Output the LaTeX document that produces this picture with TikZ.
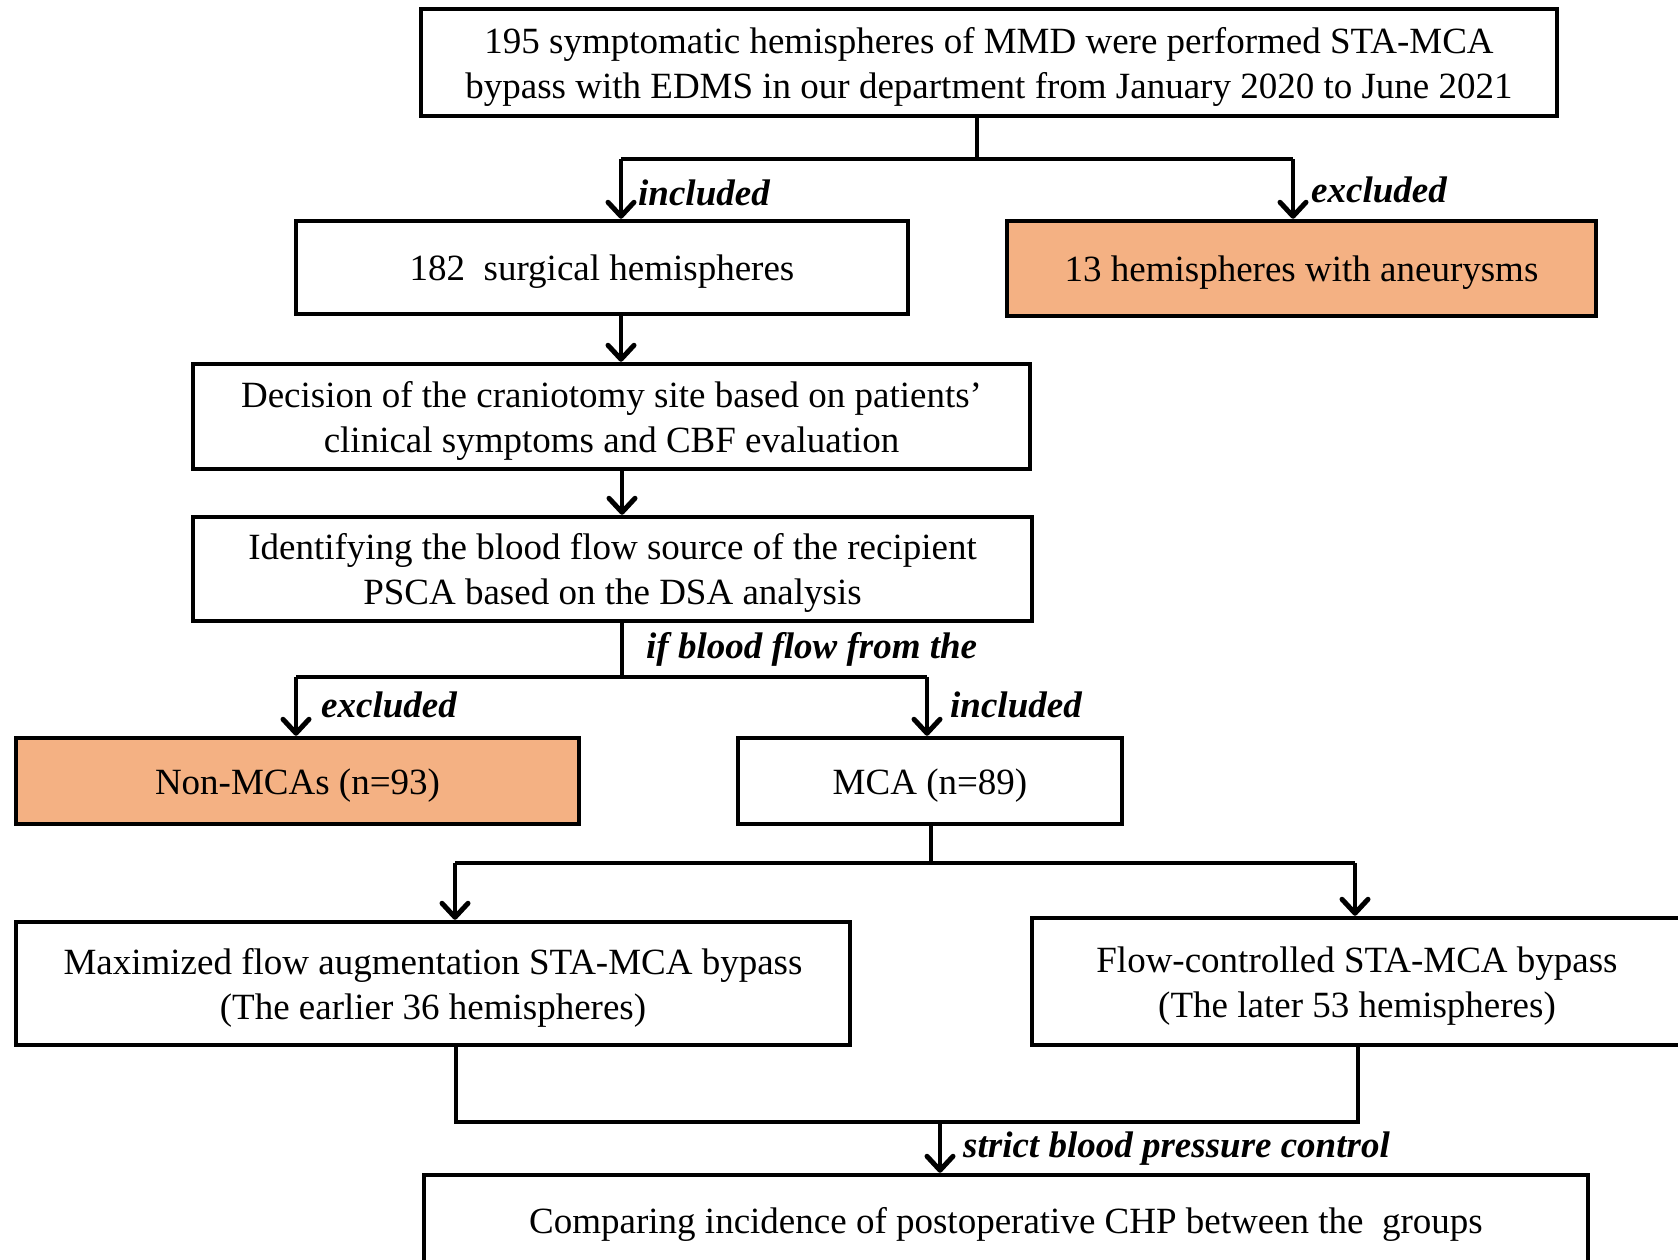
\documentclass[tikz,border=0pt]{standalone}
\usepackage{fontspec}
\setmainfont{Liberation Serif}
\usetikzlibrary{arrows.meta}
\definecolor{boxorange}{RGB}{244,177,131}
\newcommand{\bxt}[1]{\raisebox{-4pt}[\height][\depth]{\begin{tabular}{@{}c@{}}#1\end{tabular}}}
\begin{document}
\begin{tikzpicture}[x=1pt,y=-1pt,
  every node/.style={font=\fontsize{37}{45}\selectfont},
  box/.style={draw,line width=4.5pt,inner sep=0pt,anchor=center},
  obox/.style={box,fill=boxorange},
  conn/.style={line width=4pt},
  arr/.style={conn,-{Straight Barb[length=14pt,width=26pt,line width=5pt,round]}},
  lab/.style={anchor=west,font=\fontsize{37}{45}\selectfont\bfseries\itshape,inner sep=0pt}]
\useasboundingbox[fill=white] (0,0) rectangle (1678,1259);
\begin{scope}
\clip (0,0) rectangle (1678,1259);
\node[box,minimum width=1136pt,minimum height=107pt] (top) at (989,62.5)
  {\bxt{195 symptomatic hemispheres of MMD were performed STA-MCA\\bypass with EDMS in our department from January 2020 to June 2021}};
\node[box,minimum width=612pt,minimum height=93pt] (b182) at (602,267.5) {\bxt{182\ \ surgical hemispheres}};
\node[obox,minimum width=589pt,minimum height=95pt] (b13) at (1301.5,268.5) {\bxt{13 hemispheres with aneurysms}};
\node[box,minimum width=837pt,minimum height=105pt] (dec) at (611.5,416.5)
  {\bxt{Decision of the craniotomy site based on patients’\\clinical symptoms and CBF evaluation}};
\node[box,minimum width=839pt,minimum height=104pt] (ide) at (612.5,569)
  {\bxt{Identifying the blood flow source of the recipient\\PSCA based on the DSA analysis}};
\node[obox,minimum width=563pt,minimum height=86pt] (non) at (297.5,781) {\bxt{Non-MCAs (n=93)}};
\node[box,minimum width=384pt,minimum height=86pt] (mca) at (930,781) {\bxt{MCA (n=89)}};
\node[box,minimum width=834pt,minimum height=123pt] (max) at (433,983.5)
  {\bxt{Maximized flow augmentation STA-MCA bypass\\(The earlier 36 hemispheres)}};
\node[box,minimum width=650pt,minimum height=127pt] (flow) at (1357,981.5)
  {\bxt{Flow-controlled STA-MCA bypass\\(The later 53 hemispheres)}};
\node[box,minimum width=1164pt,minimum height=90pt] (bot) at (1006,1220)
  {\bxt{Comparing incidence of postoperative CHP between the\ \ groups}};

% top split
\coordinate (j1) at (977,159);
\coordinate (a1) at (621,159);
\coordinate (a2) at (1293,159);
\draw[conn] (top.south -| j1) -- (j1);
\draw[conn] (a1) -- (a2);
\draw[arr] (a1) -- (a1 |- b182.north);
\draw[arr] (a2) -- (a2 |- b13.north);
\node[lab] (l1) at (638,193) {included};
\node[lab] (l2) at (1311,190) {excluded};

\draw[arr] (b182.south -| a1) -- (dec.north -| a1);
\coordinate (a3) at (622,0);
\draw[arr] (dec.south -| a3) -- (ide.north -| a3);

% second split
\coordinate (j2) at (622,677);
\coordinate (a4) at (296,677);
\coordinate (a5) at (927,677);
\draw[conn] (ide.south -| j2) -- (j2);
\draw[conn] (a4) -- (a5);
\draw[arr] (a4) -- (a4 |- non.north);
\draw[arr] (a5) -- (a5 |- mca.north);
\node[lab] (l3) at (646,649) {if blood flow from the};
\node[lab] (l4) at (321,705) {excluded};
\node[lab] (l5) at (950,705) {included};

% third split
\coordinate (j3) at (931,863);
\coordinate (a6) at (455,863);
\coordinate (a7) at (1355,863);
\draw[conn] (mca.south -| j3) -- (j3);
\draw[conn] (a6) -- (a7);
\draw[arr] (a6) -- (a6 |- max.north);
\draw[arr] (a7) -- (a7 |- flow.north);

% merge
\coordinate (m1) at (456,1122);
\coordinate (m2) at (1358,1122);
\coordinate (m3) at (940,1122);
\draw[conn] (max.south -| m1) -- (m1) -- (m2) -- (flow.south -| m2);
\draw[arr] (m3) -- (m3 |- bot.north);
\node[lab] (l6) at (963,1149) {strict blood pressure control};
\end{scope}
\end{tikzpicture}
\end{document}
